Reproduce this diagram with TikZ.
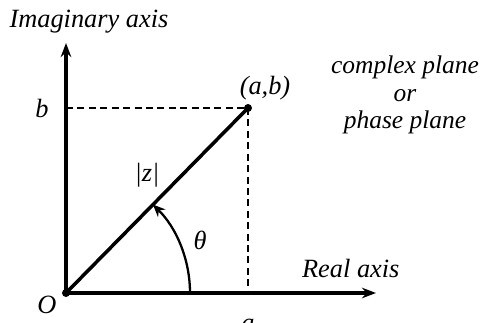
\documentclass[tikz,border=0pt]{standalone}
\usepackage{fontspec}
\setmainfont{Liberation Serif}
\usetikzlibrary{arrows.meta}
\tikzset{
  axis/.style={line width=2pt, -{Stealth[length=8pt,width=6pt]}},
  guide/.style={line width=1.3pt, dash pattern=on 4pt off 2.5pt},
  lbl/.style={font=\fontsize{15}{17}\selectfont\itshape, inner sep=1pt}
}
\begin{document}
\begin{tikzpicture}[x=0.02cm, y=0.02cm]
  \useasboundingbox (0,0) rectangle (481,322);

  % 原点、轴端点和复数点
  \coordinate (O) at (66,29);      % 原点
  \coordinate (Ytop) at (66,279);  % 虚轴端
  \coordinate (Xend) at (376,29);  % 实轴端
  \coordinate (P) at (248,214);    % 点 (a,b)
  \coordinate (Pb) at (66,214);    % b 在虚轴上
  \coordinate (Pa) at (248,29);    % a 在实轴上

  % 坐标轴
  \draw[axis] (O) -- (Ytop);
  \draw[axis] (O) -- (Xend);

  % 虚线投影
  \draw[guide] (Pb) -- (P);
  \draw[guide] (P) -- (Pa);

  % 向量 |z|
  \draw[line width=2pt] (O) -- (P);
  \fill (O) circle (4);
  \fill (P) circle (4);

  % 角 theta 的弧线（半径 124，从 0° 到约 45.5°）
  \draw[line width=1.3pt, -{Stealth[length=7pt,width=6pt]}] (190,29) arc (0:45.5:124);

  % 标注
  \node[lbl] (imag) at (89,300) {Imaginary axis};
  \node[lbl, anchor=west] (real) at (300,54) {Real axis};
  \node[lbl] (lb) at (42,214) {b};
  \node[lbl] (la) at (248,-3) {a};
  \node[lbl] (lO) at (47,17) {O};
  \node[lbl] (lP) at (265,234) {(a,b)};
  \node[lbl] (lz) at (147,147) {|z|};
  \node[lbl] (lt) at (200,82) {θ};

  % 右上说明
  \node[lbl, font=\fontsize{14.5}{16.5}\selectfont\itshape, align=center] (plane) at (405,227)
    {complex plane\\[-1pt] or\\[-1pt] phase plane};
\end{tikzpicture}
\end{document}
